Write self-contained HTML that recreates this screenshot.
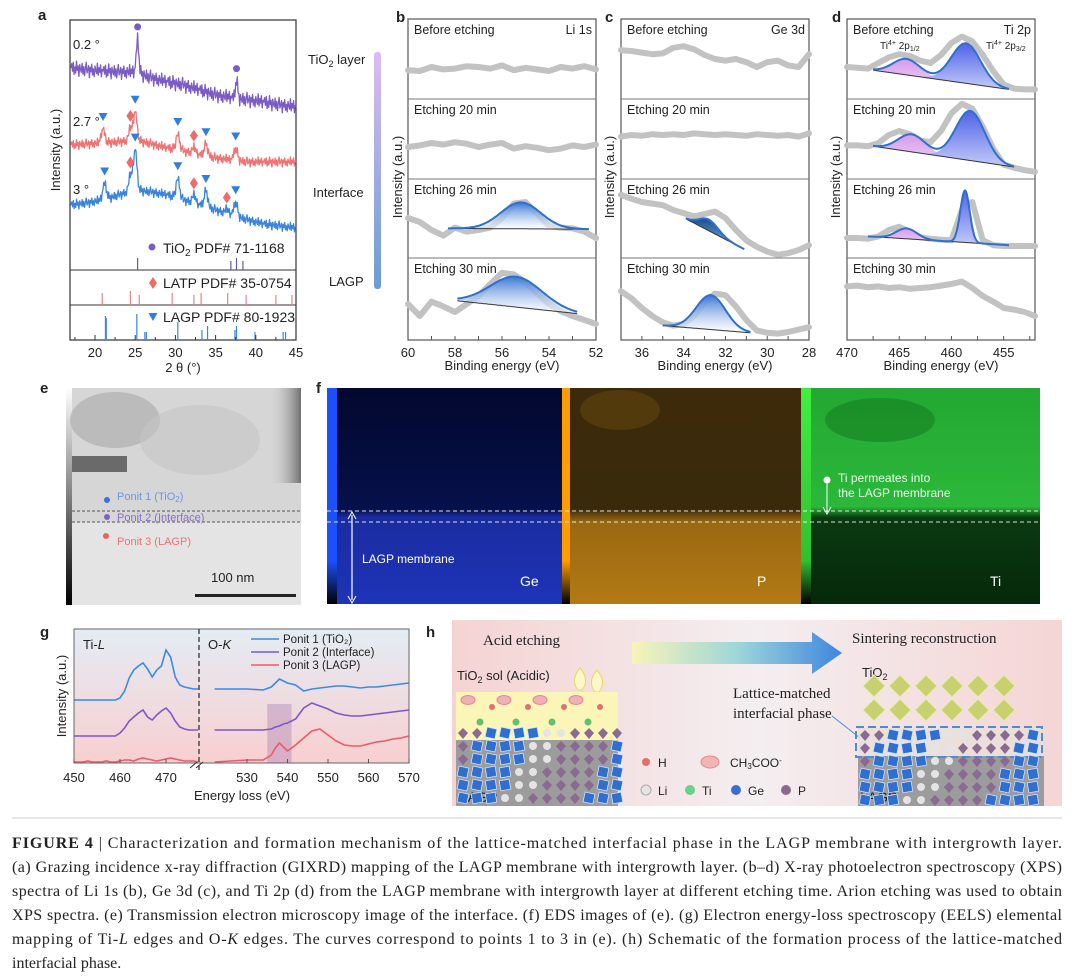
<!DOCTYPE html>
<html><head><meta charset="utf-8">
<style>
body{margin:0;background:#fff}
svg{display:block}
text{font-family:"Liberation Sans",sans-serif;fill:#222}
.cap{font-family:"Liberation Serif",serif;font-size:16px;fill:#222}
</style></head>
<body>
<svg id="fig" width="1080" height="977" viewBox="0 0 1080 977">
<defs>
<linearGradient id="cbar" x1="0" y1="0" x2="0" y2="1"><stop offset="0" stop-color="#dcbcf2"/><stop offset="1" stop-color="#6a9cd6"/></linearGradient>
<linearGradient id="fitBlue" x1="0" y1="0" x2="0" y2="1"><stop offset="0" stop-color="#3a78d4"/><stop offset="1" stop-color="#ffffff" stop-opacity="0.6"/></linearGradient>
<linearGradient id="fitDark" x1="0" y1="0" x2="0" y2="1"><stop offset="0" stop-color="#1a4f8c"/><stop offset="1" stop-color="#7fb0e0"/></linearGradient>
<linearGradient id="fitPink" x1="0" y1="0" x2="0" y2="1"><stop offset="0" stop-color="#d899ec"/><stop offset="1" stop-color="#e8d8f8"/></linearGradient>
<linearGradient id="fitViolet" x1="0" y1="0" x2="0" y2="1"><stop offset="0" stop-color="#4f63e8"/><stop offset="1" stop-color="#c4cbf8"/></linearGradient>
<linearGradient id="gbg" x1="0" y1="0" x2="0" y2="1"><stop offset="0" stop-color="#e4ecf4"/><stop offset="1" stop-color="#f8cfd0"/></linearGradient>
<linearGradient id="hbg" x1="0" y1="0" x2="1" y2="0"><stop offset="0" stop-color="#f5d3d3"/><stop offset="0.5" stop-color="#f4eef0"/><stop offset="1" stop-color="#f5d5d5"/></linearGradient>
<linearGradient id="arrowG" x1="0" y1="0" x2="1" y2="0"><stop offset="0" stop-color="#f8f4b8"/><stop offset="0.5" stop-color="#9fd6d8"/><stop offset="1" stop-color="#3f86e0"/></linearGradient>
<linearGradient id="eBar" x1="0" y1="0" x2="0" y2="1"><stop offset="0" stop-color="#fff"/><stop offset="1" stop-color="#000"/></linearGradient>
<linearGradient id="geMap" x1="0" y1="0" x2="0" y2="1"><stop offset="0" stop-color="#03082e"/><stop offset="0.56" stop-color="#06104a"/><stop offset="0.6" stop-color="#1a2ca0"/><stop offset="1" stop-color="#1e34b8"/></linearGradient>
<linearGradient id="pMap" x1="0" y1="0" x2="0" y2="1"><stop offset="0" stop-color="#3c2a0a"/><stop offset="0.56" stop-color="#3a2a0c"/><stop offset="0.62" stop-color="#9a6812"/><stop offset="1" stop-color="#b27a14"/></linearGradient>
<linearGradient id="tiMap" x1="0" y1="0" x2="0" y2="1"><stop offset="0" stop-color="#23a832"/><stop offset="0.55" stop-color="#2bb83a"/><stop offset="0.6" stop-color="#0a3a10"/><stop offset="1" stop-color="#06280a"/></linearGradient>
<linearGradient id="geBar" x1="0" y1="0" x2="0" y2="1"><stop offset="0" stop-color="#1a50ff"/><stop offset="0.8" stop-color="#1a50ff"/><stop offset="1" stop-color="#000"/></linearGradient>
<linearGradient id="pBar" x1="0" y1="0" x2="0" y2="1"><stop offset="0" stop-color="#ff9c00"/><stop offset="0.8" stop-color="#ff9c00"/><stop offset="1" stop-color="#000"/></linearGradient>
<linearGradient id="tiBar" x1="0" y1="0" x2="0" y2="1"><stop offset="0" stop-color="#40f040"/><stop offset="0.8" stop-color="#30c030"/><stop offset="1" stop-color="#000"/></linearGradient>
<linearGradient id="eRight" x1="0" y1="0" x2="1" y2="0"><stop offset="0" stop-color="#d0d0d0" stop-opacity="0"/><stop offset="1" stop-color="#707070"/></linearGradient>
</defs>

<!-- panel labels -->
<g font-weight="bold" font-size="15">
<text x="38" y="20">a</text>
<text x="396" y="22">b</text>
<text x="605" y="22">c</text>
<text x="832" y="22">d</text>
<text x="40" y="393">e</text>
<text x="316" y="393">f</text>
<text x="40" y="637">g</text>
<text x="426" y="637">h</text>
</g>

<!-- colorbar between a and b -->
<rect x="374" y="52" width="7" height="237" rx="3" fill="url(#cbar)"/>
<text x="308" y="64" font-size="13">TiO<tspan font-size="9" dy="3">2</tspan><tspan dy="-3"> layer</tspan></text>
<text x="313" y="197" font-size="13">Interface</text>
<text x="329" y="286" font-size="13">LAGP</text>

<!-- panel e TEM -->
<g>
<rect x="66" y="388" width="6" height="217" fill="url(#eBar)"/>
<rect x="72" y="388" width="229" height="217" fill="#d6d6d6"/>
<ellipse cx="115" cy="420" rx="45" ry="28" fill="#a9a9a9" opacity="0.6"/>
<ellipse cx="200" cy="440" rx="60" ry="35" fill="#c4c4c4" opacity="0.6"/>
<rect x="72" y="456" width="55" height="16" fill="#6a6a6a"/>
<rect x="270" y="388" width="31" height="95" fill="url(#eRight)"/>
<rect x="72" y="522" width="229" height="83" fill="#e4e4e4"/>
<line x1="72" y1="511" x2="301" y2="511" stroke="#555" stroke-dasharray="3,2"/>
<line x1="72" y1="522" x2="301" y2="522" stroke="#555" stroke-dasharray="3,2"/>
<circle cx="107" cy="500" r="3" fill="#3a6fe0"/>
<text x="117" y="500" font-size="11" fill="#6f95e8" style="fill:#6f95e8">Ponit 1 (TiO<tspan font-size="8" dy="2">2</tspan><tspan dy="-2">)</tspan></text>
<circle cx="107" cy="517" r="3" fill="#8060c8"/>
<text x="117" y="521" font-size="11" style="fill:#8a70c8">Ponit 2 (Interface)</text>
<circle cx="106" cy="536" r="3" fill="#f06060"/>
<text x="117" y="545" font-size="11" style="fill:#f07070">Ponit 3 (LAGP)</text>
<text x="211" y="582" font-size="13">100 nm</text>
<rect x="195" y="594" width="101" height="3" fill="#222"/>
</g>

<!-- panel f EDS -->
<g>
<rect x="327" y="388" width="10" height="216" fill="url(#geBar)"/>
<rect x="337" y="388" width="225" height="216" fill="url(#geMap)"/>
<rect x="562" y="388" width="8" height="216" fill="url(#pBar)"/>
<rect x="570" y="388" width="231" height="216" fill="url(#pMap)"/>
<rect x="801" y="388" width="10" height="216" fill="url(#tiBar)"/>
<rect x="811" y="388" width="229" height="216" fill="url(#tiMap)"/>
<ellipse cx="880" cy="420" rx="55" ry="22" fill="#0e6a18" opacity="0.4"/>
<ellipse cx="620" cy="410" rx="40" ry="20" fill="#6a4a10" opacity="0.5"/>
<line x1="327" y1="511" x2="1040" y2="511" stroke="#fff" stroke-dasharray="4,3" opacity="0.85"/>
<line x1="327" y1="522" x2="1040" y2="522" stroke="#fff" stroke-dasharray="4,3" opacity="0.85"/>
<line x1="352" y1="515" x2="352" y2="600" stroke="#fff" stroke-width="1.2"/>
<path d="M348,519 L352,512 L356,519 M348,596 L352,603 L356,596" stroke="#fff" fill="none"/>
<text x="362" y="563" font-size="12" style="fill:#fff">LAGP membrane</text>
<text x="520" y="586" font-size="14" style="fill:#fff">Ge</text>
<text x="757" y="586" font-size="14" style="fill:#fff">P</text>
<text x="990" y="586" font-size="14" style="fill:#fff">Ti</text>
<circle cx="827" cy="480" r="3.5" fill="#fff"/>
<line x1="827" y1="483" x2="827" y2="512" stroke="#fff"/>
<path d="M823,507 L827,514 L831,507" stroke="#fff" fill="none"/>
<text x="838" y="482" font-size="12" style="fill:#e8ffe8">Ti permeates into</text>
<text x="838" y="497" font-size="12" style="fill:#e8ffe8">the LAGP membrane</text>
</g>

<!-- panel h schematic -->
<g id="schem">
<rect x="452" y="620" width="610" height="186" fill="url(#hbg)"/>
<text x="483" y="645" font-size="15" font-family="Liberation Serif" style="font-family:'Liberation Serif',serif">Acid etching</text>
<text x="852" y="643" font-size="15" style="font-family:'Liberation Serif',serif">Sintering reconstruction</text>
<path d="M632,642 L812,642 L812,632 L842,653 L812,674 L812,664 L632,664 Z" fill="url(#arrowG)"/>
<text x="457" y="680" font-size="13">TiO<tspan font-size="9" dy="3">2</tspan><tspan dy="-3"> sol (Acidic)</tspan></text>
<path d="M578,690 q-8,-10 2,-22 q10,12 2,22 z M595,692 q-8,-10 2,-22 q10,12 2,22 z" fill="#fbf7c6" stroke="#e8d860"/>
<rect x="456" y="692" width="162" height="48" fill="#fbf5b8"/>
<rect x="456" y="740" width="162" height="66" fill="#9c9c9c"/>
<text x="460" y="802" font-size="14">LAGP</text>
<text x="862" y="677" font-size="13">TiO<tspan font-size="9" dy="3">2</tspan></text>
<text x="733" y="698" font-size="15" style="font-family:'Liberation Serif',serif">Lattice-matched</text>
<text x="733" y="718" font-size="15" style="font-family:'Liberation Serif',serif">interfacial phase</text>
<line x1="832" y1="716" x2="860" y2="738" stroke="#4a8ae0"/>
<rect x="858" y="756" width="186" height="50" fill="#9c9c9c"/>
<rect x="858" y="728" width="186" height="28" fill="#e8e0d8" opacity="0.8"/>
<rect x="856" y="727" width="186" height="30" fill="none" stroke="#4a8ae0" stroke-width="2" stroke-dasharray="8,4"/>
<text x="860" y="802" font-size="14">LAGP</text>
<circle cx="646" cy="762" r="4" fill="#e07070"/>
<text x="658" y="767" font-size="12">H</text>
<ellipse cx="710" cy="762" rx="9" ry="6" fill="#f4b4b4" stroke="#e08888"/>
<text x="730" y="767" font-size="12">CH<tspan font-size="8" dy="2">3</tspan><tspan dy="-2">COO</tspan><tspan font-size="8" dy="-4">-</tspan></text>
<circle cx="646" cy="790" r="5" fill="#e4e4e4" stroke="#aaa"/>
<text x="658" y="795" font-size="12">Li</text>
<circle cx="690" cy="790" r="5" fill="#6ad08a"/>
<text x="702" y="795" font-size="12">Ti</text>
<circle cx="736" cy="790" r="5" fill="#3a6fd0"/>
<text x="748" y="795" font-size="12">Ge</text>
<circle cx="786" cy="790" r="5" fill="#8a6a8a"/>
<text x="798" y="795" font-size="12">P</text>
</g>

<!-- caption -->
<g>
<line x1="12" y1="818" x2="1062" y2="818" stroke="#ccc"/>
<text class="cap" x="12" y="848" textLength="1050" lengthAdjust="spacing"><tspan font-weight="bold">FIGURE 4</tspan>  |  Characterization and formation mechanism of the lattice-matched interfacial phase in the LAGP membrane with intergrowth layer.</text>
<text class="cap" x="12" y="872" textLength="1050" lengthAdjust="spacing">(a) Grazing incidence x-ray diffraction (GIXRD) mapping of the LAGP membrane with intergrowth layer. (b–d) X-ray photoelectron spectroscopy (XPS)</text>
<text class="cap" x="12" y="896" textLength="1050" lengthAdjust="spacing">spectra of Li 1s (b), Ge 3d (c), and Ti 2p (d) from the LAGP membrane with intergrowth layer at different etching time. Arion etching was used to obtain</text>
<text class="cap" x="12" y="920" textLength="1050" lengthAdjust="spacing">XPS spectra. (e) Transmission electron microscopy image of the interface. (f) EDS images of (e). (g) Electron energy-loss spectroscopy (EELS) elemental</text>
<text class="cap" x="12" y="944" textLength="1050" lengthAdjust="spacing">mapping of Ti-<tspan font-style="italic">L</tspan> edges and O-<tspan font-style="italic">K</tspan> edges. The curves correspond to points 1 to 3 in (e). (h) Schematic of the formation process of the lattice-matched</text>
<text class="cap" x="12" y="968">interfacial phase.</text>
</g>
</svg>

<script>
// ---------- Panel a data (GIXRD) ----------
const xrdAngles=[17,19,21,23,25,27,29,31,33,35,37,39,41,43,45];
const xrdBasePurple=[272,270,269,268,268,262,258,255,250,245,242,240,238,235,233];
const xrdBaseRed=[195,196,197,198,200,196,192,189,185,182,180,178,178,178,178];
const xrdBaseBlue=[135,137,140,145,150,148,145,140,135,130,125,120,116,114,112];
const xrdPeaksPurplePos=[25.3,37.6];
const xrdPeaksPurpleH=[34,18];
const xrdPeaksRedPos=[21.0,24.4,25.0,30.3,32.3,33.8,37.5];
const xrdPeaksRedH=[14,12,28,16,6,12,12];
const xrdPeaksBluePos=[21.2,24.4,25.0,30.3,32.3,33.8,36.4,37.5];
const xrdPeaksBlueH=[16,16,40,20,8,16,4,14];
const xrdNoise=[0,3,-2,4,-4,1,-3,5,-1,2,-5,3,0,-2,4,-3,2,-4,1,5,-2,0,3,-5,2,-1,4,-3,1,-4,3,0,-2,5,-3,2,-1,4,-4,1];
const refTiO2=[25.3,36.9,37.6,38.4];
const refTiO2H=[12,9,12,9];
const refLATP=[20.9,24.4,25.5,29.6,32.3,33.2,36.5,38.8,42.5,44.5];
const refLATPH=[12,14,10,12,10,12,12,10,10,10];
const refLAGP=[21.3,21.4,25.2,26.2,26.4,30.3,33.3,34.0,37.4,37.6,39.9,43.4,43.7];
const refLAGPH=[24,22,26,8,8,18,10,14,10,14,8,8,8];
const xTicksA=[20,25,30,35,40,45];

// ---------- Panels b-d data (XPS) ----------
const liEnergy=[60,59.5,59,58.5,58,57.5,57,56.5,56,55.5,55,54.5,54,53.5,53,52.5,52];
const liBefore=[36,35,40,37,38,41,40,38,42,36,39,37,35,40,38,41,37];
const li20=[40,42,45,43,46,44,40,43,45,38,41,39,36,38,42,40,43];
const li26=[50,45,35,28,38,33,35,38,50,68,70,55,40,38,37,33,25];
const li30=[45,30,48,42,35,45,55,70,84,82,72,58,45,36,30,25,20];
const geEnergy=[37,36.5,36,35.5,35,34.5,34,33.5,33,32.5,32,31.5,31,30.5,30,29.5,29,28.5,28];
const geBefore=[61,60,58,56,57,64,66,62,55,50,48,50,46,40,46,48,42,40,56];
const ge20=[53,55,54,56,55,56,55,57,56,55,56,55,54,56,55,54,55,53,57];
const ge26=[79,74,70,68,66,60,56,52,55,58,50,35,22,14,8,4,6,10,16];
const ge30=[61,52,40,30,22,18,20,30,48,58,56,42,25,12,9,8,10,13,16];
const tiEnergy=[470,469,468,467,466,465,464,463,462,461,460,459,458,457,456,455,454,453,452];
const tiBefore=[40,39,38,45,52,56,54,48,45,55,70,78,72,55,35,18,13,12,12];
const ti20=[42,42,41,45,55,60,56,48,46,60,82,94,88,65,38,18,14,11,9];
const ti26=[25,25,24,27,35,39,33,26,24,23,22,60,70,22,16,15,15,15,15];
const ti30=[67,68,66,67,65,66,64,65,66,68,70,73,65,55,48,40,38,35,30];
const liTicks=[60,58,56,54,52];
const geTicks=[36,34,32,30,28];
const tiTicks=[470,465,460,455];
// fit peaks: [center, height, sigma]
const liFit26Peak=[55.2,33,0.85];
const liFit26Base=[58.3,37,52.3,36];
const liFit30Peak=[55.4,38,1.1];
const liFit30Base=[57.9,49,52.8,33];
const geFit26Peak=[32.8,14,0.45];
const geFit26Base=[33.9,49,31.1,11];
const geFit30Peak=[32.7,43,0.7];
const geFit30Base=[35,18,30.8,9];
const tiFitBeforePeaks=[[464.3,20,1.3],[458.6,50,1.4]];
const tiFitBeforeBase=[467.5,36,454.5,12];
const tiFit20Peaks=[[463.8,22,1.3],[458.2,62,1.4]];
const tiFit20Base=[467.5,41,454,15];
const tiFit26Peaks=[[464.3,13,1.0],[458.7,65,0.45]];
const tiFit26Base=[468,27,454.5,16];

// ---------- Panel g data (EELS) ----------
const eelsLeftE=[450,451,452,453,454,455,456,457,458,459,460,461,462,463,464,465,466,467,468,469,470,471,472,473,474,475,476,477];
const eelsLeft1=[63,63,63,63,63,63,63,63,63,63,65,72,85,93,97,100,94,86,93,97,113,106,86,78,76,75,74,74];
const eelsLeft2=[27,27,27,27,27,27,27,27,27,27,30,35,42,46,50,53,46,43,48,52,55,50,42,36,34,33,33,33];
const eelsLeft3=[1,1,1,2,1,1,1,2,1,1,2,3,3,2,4,5,4,3,2,3,4,5,4,3,2,2,2,1];
const eelsRightE=[522,526,530,534,536,537,538,539,540,542,544,546,548,550,552,554,556,558,560,562,564,566,568,570];
const eelsRight1=[74,74,74,73,76,80,84,82,80,78,72,74,75,76,77,77,76,75,76,76,77,78,79,80];
const eelsRight2=[33,33,33,33,34,36,37,39,40,44,55,60,57,54,50,48,47,47,48,49,50,51,52,53];
const eelsRight3=[1,2,3,3,8,15,20,16,12,18,25,32,34,28,22,18,17,17,19,21,22,24,25,27];
const eelsTicks=[450,460,470,530,540,550,560,570];

const svg=document.getElementById('fig');
const NS='http://www.w3.org/2000/svg';
function mk(tag,attrs,parent){const el=document.createElementNS(NS,tag);for(const k in attrs)el.setAttribute(k,attrs[k]);(parent||svg).appendChild(el);return el;}
function txt(x,y,s,size,anchor,parent){const t=mk('text',{x:x,y:y,'font-size':size,'text-anchor':anchor||'start'},parent);t.textContent=s;return t;}
function interp(xs,ys,x){if(xs[0]<xs[xs.length-1]){for(let i=0;i<xs.length-1;i++){if(x>=xs[i]&&x<=xs[i+1]){const t=(x-xs[i])/(xs[i+1]-xs[i]);return ys[i]+t*(ys[i+1]-ys[i]);}}return x<xs[0]?ys[0]:ys[ys.length-1];}
 else{for(let i=0;i<xs.length-1;i++){if(x<=xs[i]&&x>=xs[i+1]){const t=(x-xs[i])/(xs[i+1]-xs[i]);return ys[i]+t*(ys[i+1]-ys[i]);}}return x>xs[0]?ys[0]:ys[ys.length-1];}}
function gauss(x,c,h,s){return h*Math.exp(-(x-c)*(x-c)/(2*s*s));}
function pathFrom(pts){return pts.map((p,i)=>(i?'L':'M')+p[0].toFixed(1)+','+p[1].toFixed(1)).join('');}

// ===== Panel a =====
const gA=mk('g',{});


const xA=v=>95+(v-20)*8.04;
const yA=v=>340-v;
const frameA=mk('rect',{x:70,y:20,width:226,height:320,fill:'none',stroke:'#333','stroke-width':1.2},gA);


mk('line',{x1:70,y1:270,x2:296,y2:270,stroke:'#333'},gA);
mk('line',{x1:70,y1:305,x2:296,y2:305,stroke:'#333'},gA);
const xrdSeries=[[xrdBasePurple,xrdPeaksPurplePos,xrdPeaksPurpleH,'#7b5cc6',1.5,0.15,'xrd-curve-0.2deg'],[xrdBaseRed,xrdPeaksRedPos,xrdPeaksRedH,'#f07272',1.0,0.22,'xrd-curve-2.7deg'],[xrdBaseBlue,xrdPeaksBluePos,xrdPeaksBlueH,'#3a84e0',1.0,0.22,'xrd-curve-3deg']];
xrdSeries.forEach(s=>{const pts=[];let k=0;for(let a=17.0;a<=45.001;a+=0.1){let v=interp(xrdAngles,s[0],a);s[1].forEach((c,i)=>{v+=gauss(a,c,s[2][i],s[5]);});v+=xrdNoise[k%xrdNoise.length]*s[4];k++;pts.push([xA(a),yA(v)]);}
 const p=mk('path',{d:pathFrom(pts),fill:'none',stroke:s[3],'stroke-width':1.3,'stroke-linejoin':'round'},gA);
 
 });
function curveVal(s,a){let v=interp(xrdAngles,s[0],a);s[1].forEach((c,i)=>{v+=gauss(a,c,s[2][i],s[5]);});return v;}
function marker(type,x,y,parent){let el;
 if(type==='dot')el=mk('circle',{cx:x,cy:y,r:3.5,fill:'#7b5cc6'},parent);
 else if(type==='tri')el=mk('path',{d:`M${x-4.5},${y-4}L${x+4.5},${y-4}L${x},${y+4}Z`,fill:'#2f7fe0'},parent);
 else el=mk('path',{d:`M${x},${y-6}L${x+4},${y}L${x},${y+6}L${x-4},${y}Z`,fill:'#f06a6a'},parent);
 return el;}
const purpleMarkers=['dot','dot'];
const redMarkers=['tri','dia','tri','tri','dia','tri','tri'];
const blueMarkers=['tri','dia','tri','tri','dia','tri','dia','tri'];
[[xrdSeries[0],purpleMarkers],[xrdSeries[1],redMarkers],[xrdSeries[2],blueMarkers]].forEach(([s,m])=>{s[1].forEach((c,i)=>{const mEl=marker(m[i],xA(c),yA(curveVal(s,c))-12,gA);
 
 });});
[[refTiO2,refTiO2H,270,'#6a58b0'],[refLATP,refLATPH,305,'#f08080'],[refLAGP,refLAGPH,340,'#3a84e0']].forEach(r=>{r[0].forEach((c,i)=>{const l=mk('line',{x1:xA(c),x2:xA(c),y1:r[2],y2:r[2]-r[1][i],stroke:r[3],'stroke-width':1.2},gA);
 
 });});
marker('dot',152,247,gA);txt(163,252,'',14,'start',gA);
const lt1=mk('text',{x:163,y:253,'font-size':14},gA);lt1.innerHTML='TiO<tspan font-size="10" dy="3">2</tspan><tspan dy="-3"> PDF# 71-1168</tspan>';


marker('dia',153,283,gA);
const lt2=txt(163,288,'LATP PDF# 35-0754',14,'start',gA);


marker('tri',153,317,gA);
const lt3=txt(163,322,'LAGP PDF# 80-1923',14,'start',gA);


txt(73,49,'0.2 °',13,'start',gA);txt(73,126,'2.7 °',13,'start',gA);txt(73,194,'3 °',13,'start',gA);
for(let v=17.5;v<=45;v+=2.5){mk('line',{x1:xA(v),x2:xA(v),y1:340,y2:xTicksA.includes(v)?335:337,stroke:'#333'},gA);}
xTicksA.forEach(v=>{const t=txt(xA(v),357,String(v),13,'middle',gA);
 
 });
const xlA=txt(183,372,'2 θ (°)',13,'middle',gA);


const ylA=mk('text',{x:0,y:0,'font-size':13,'text-anchor':'middle',transform:'translate(60,150) rotate(-90)'},gA);ylA.textContent='Intensity (a.u.)';



// ===== Panels b-d =====
const subTop=[19,99,179,258], subBot=[99,179,258,340];
const subTitles=['Before etching','Etching 20 min','Etching 26 min','Etching 30 min'];
function xpsPanel(name,x0,eL,eR,ticks,minor,energy,grays,fits,elem,ylX){
 const g=mk('g',{});
 
 
 const W=188;const xs=e=>x0+(eL-e)/(eL-eR)*W;
 const fr=mk('rect',{x:x0,y:19,width:W,height:321,fill:'none',stroke:'#555','stroke-width':1.2},g);
 
 
 [99,179,258].forEach(y=>mk('line',{x1:x0,x2:x0+W,y1:y,y2:y,stroke:'#777'},g));
 grays.forEach((arr,i)=>{const ys=v=>subBot[i]-v*0.8;
  const p=mk('path',{d:pathFrom(energy.map((e,j)=>[xs(e),ys(arr[j])])),fill:'none',stroke:'#c2c2c2','stroke-width':6,'stroke-linecap':'round','stroke-linejoin':'round'},g);
  
  
  const t=txt(x0+6,subTop[i]+15,subTitles[i],12.5,'start',g);
  
  });
 fits.forEach(f=>{const i=f.sub;const ys=v=>subBot[i]-v*0.8;const b=f.base;
  const base=e=>b[1]+(e-b[0])/(b[2]-b[0])*(b[3]-b[1]);
  const es=[];for(let e=b[0];e>=b[2]-1e-6;e-=0.05)es.push(e);
  f.peaks.forEach((pk,k)=>{const top=es.map(e=>[xs(e),ys(base(e)+gauss(e,pk[0],pk[1],pk[2]))]);
   const bot=es.slice().reverse().map(e=>[xs(e),ys(base(e))]);
   const a=mk('path',{d:pathFrom(top.concat(bot))+'Z',fill:f.fills[k],stroke:'none'},g);
   
   });
  mk('path',{d:pathFrom(es.map(e=>[xs(e),ys(base(e))])),fill:'none',stroke:'#333','stroke-width':1},g);
  const env=mk('path',{d:pathFrom(es.map(e=>{let v=base(e);f.peaks.forEach(pk=>v+=gauss(e,pk[0],pk[1],pk[2]));return [xs(e),ys(v)];})),fill:'none',stroke:'#2e70d0','stroke-width':2},g);
  
  });
 const el=txt(x0+W-4,34,elem,12.5,'end',g);
 
 
 for(let e=eL;e>=eR-1e-6;e-=minor){mk('line',{x1:xs(e),x2:xs(e),y1:340,y2:336,stroke:'#555'},g);}
 ticks.forEach(v=>{const t=txt(xs(v),357,String(v),13,'middle',g);
  
  });
 const xl=txt(x0+W/2,370,'Binding energy (eV)',13,'middle',g);
 
 
 const yl=mk('text',{x:0,y:0,'font-size':13,'text-anchor':'middle',transform:`translate(${ylX},177) rotate(-90)`},g);yl.textContent='Intensity (a.u.)';
 
 
 return g;}
xpsPanel('li1s-panel',408,60,52,liTicks,1,liEnergy,[liBefore,li20,li26,li30],
 [{sub:2,base:liFit26Base,peaks:[liFit26Peak],fills:['url(#fitBlue)']},{sub:3,base:liFit30Base,peaks:[liFit30Peak],fills:['url(#fitBlue)']}],'Li 1s',402);
xpsPanel('ge3d-panel',621,37,28,geTicks,1,geEnergy,[geBefore,ge20,ge26,ge30],
 [{sub:2,base:geFit26Base,peaks:[geFit26Peak],fills:['url(#fitDark)']},{sub:3,base:geFit30Base,peaks:[geFit30Peak],fills:['url(#fitBlue)']}],'Ge 3d',614);
const gd=xpsPanel('ti2p-panel',847,470,452,tiTicks,2.5,tiEnergy,[tiBefore,ti20,ti26,ti30],
 [{sub:0,base:tiFitBeforeBase,peaks:tiFitBeforePeaks,fills:['url(#fitPink)','url(#fitViolet)']},{sub:1,base:tiFit20Base,peaks:tiFit20Peaks,fills:['url(#fitPink)','url(#fitViolet)']},{sub:2,base:tiFit26Base,peaks:tiFit26Peaks,fills:['url(#fitPink)','url(#fitViolet)']}],'Ti 2p',840);
const pl1=mk('text',{x:880,y:49,'font-size':10},gd);pl1.innerHTML='Ti<tspan font-size="7" dy="-4">4+</tspan><tspan dy="4"> 2p</tspan><tspan font-size="7" dy="2">1/2</tspan>';


const pl2=mk('text',{x:986,y:49,'font-size':10},gd);pl2.innerHTML='Ti<tspan font-size="7" dy="-4">4+</tspan><tspan dy="4"> 2p</tspan><tspan font-size="7" dy="2">3/2</tspan>';



// ===== Panel g =====
const gG=mk('g',{});


const xG=e=>e<=500?74+(e-450)*4.6:247+(e-530)*4.05;
const yG=v=>763-v;
mk('rect',{x:74,y:629,width:335,height:134,fill:'url(#gbg)'},gG);
const hl=mk('rect',{x:xG(535),y:704,width:xG(541)-xG(535),height:59,fill:'#a070b0',opacity:0.35},gG);


const eelsSeries=[[eelsLeft1,eelsRight1,'#3b8ae6','point-1-tio2'],[eelsLeft2,eelsRight2,'#7b58c8','point-2-interface'],[eelsLeft3,eelsRight3,'#ee5a66','point-3-lagp']];
eelsSeries.forEach(s=>{const a=mk('path',{d:pathFrom(eelsLeftE.map((e,j)=>[xG(e),yG(s[0][j])])),fill:'none',stroke:s[2],'stroke-width':1.6},gG);
 
 
 const b=mk('path',{d:pathFrom(eelsRightE.map((e,j)=>[xG(e),yG(s[1][j])])),fill:'none',stroke:s[2],'stroke-width':1.6},gG);
 
 });
mk('rect',{x:74,y:629,width:335,height:134,fill:'none',stroke:'#666'},gG);
mk('line',{x1:199,y1:629,x2:199,y2:770,stroke:'#333','stroke-width':1.3,'stroke-dasharray':'5,3'},gG);
mk('path',{d:'M190,768 L197,762 M196,768 L203,762',stroke:'#333'},gG);
eelsTicks.forEach(v=>{mk('line',{x1:xG(v),x2:xG(v),y1:763,y2:759,stroke:'#555'},gG);
 const t=txt(xG(v),782,String(v),13,'middle',gG);
 
 });
const tl=mk('text',{x:83,y:649,'font-size':13},gG);tl.innerHTML='Ti-<tspan font-style="italic">L</tspan>';
const ok=mk('text',{x:208,y:649,'font-size':13},gG);ok.innerHTML='O-<tspan font-style="italic">K</tspan>';
const legTexts=['Ponit 1 (TiO₂)','Ponit 2 (Interface)','Ponit 3 (LAGP)'];
eelsSeries.forEach((s,i)=>{const y=639+i*13;mk('line',{x1:251,x2:279,y1:y,y2:y,stroke:s[2],'stroke-width':1.6},gG);
 const t=txt(283,y+4,legTexts[i],11.5,'start',gG);
 
 });
const xlG=txt(242,800,'Energy loss (eV)',13,'middle',gG);


const ylG=mk('text',{x:0,y:0,'font-size':13,'text-anchor':'middle',transform:'translate(66,696) rotate(-90)'},gG);ylG.textContent='Intensity (a.u.)';



// ===== schematic crystals =====
const sch=document.getElementById('schem');
function crystals(x0,x1,y0,y1,dense){for(let y=y0;y<y1;y+=13){for(let x=x0;x<x1;x+=14){const k=((x*7+y*3)>>2)%5;
 if(k<2)mk('rect',{x:x,y:y,width:10,height:10,fill:'#2f6fd0',stroke:'#cfe0ff','stroke-width':0.8,transform:`rotate(${k?12:-10} ${x+5} ${y+5})`},sch);
 else if(k<4)mk('path',{d:`M${x+5},${y}L${x+10},${y+5}L${x+5},${y+11}L${x},${y+5}Z`,fill:'#8a6a92'},sch);
 else mk('circle',{cx:x+5,cy:y+5,r:4,fill:'#e4e4e4'},sch);}}}
crystals(458,616,728,800);
crystals(860,1040,730,800);
for(let x=864;x<1020;x+=26){for(let y=686;y<=712;y+=24){mk('path',{d:`M${x+10},${y-11}L${x+21},${y}L${x+10},${y+11}L${x-1},${y}Z`,fill:'#c8d070',stroke:'#e8ecb0'},sch);}}
for(let i=0;i<12;i++){const x=468+i*12,y=700+((i*5)%3)*9;if(i%3===0)mk('ellipse',{cx:x,cy:y,rx:7,ry:4.5,fill:'#f0b0b8',stroke:'#e08890'},sch);else if(i%3===1)mk('circle',{cx:x,cy:y+4,r:3.5,fill:'#60c070'},sch);else mk('circle',{cx:x,cy:y-2,r:3,fill:'#e07070'},sch);}
</script>
</body></html>
